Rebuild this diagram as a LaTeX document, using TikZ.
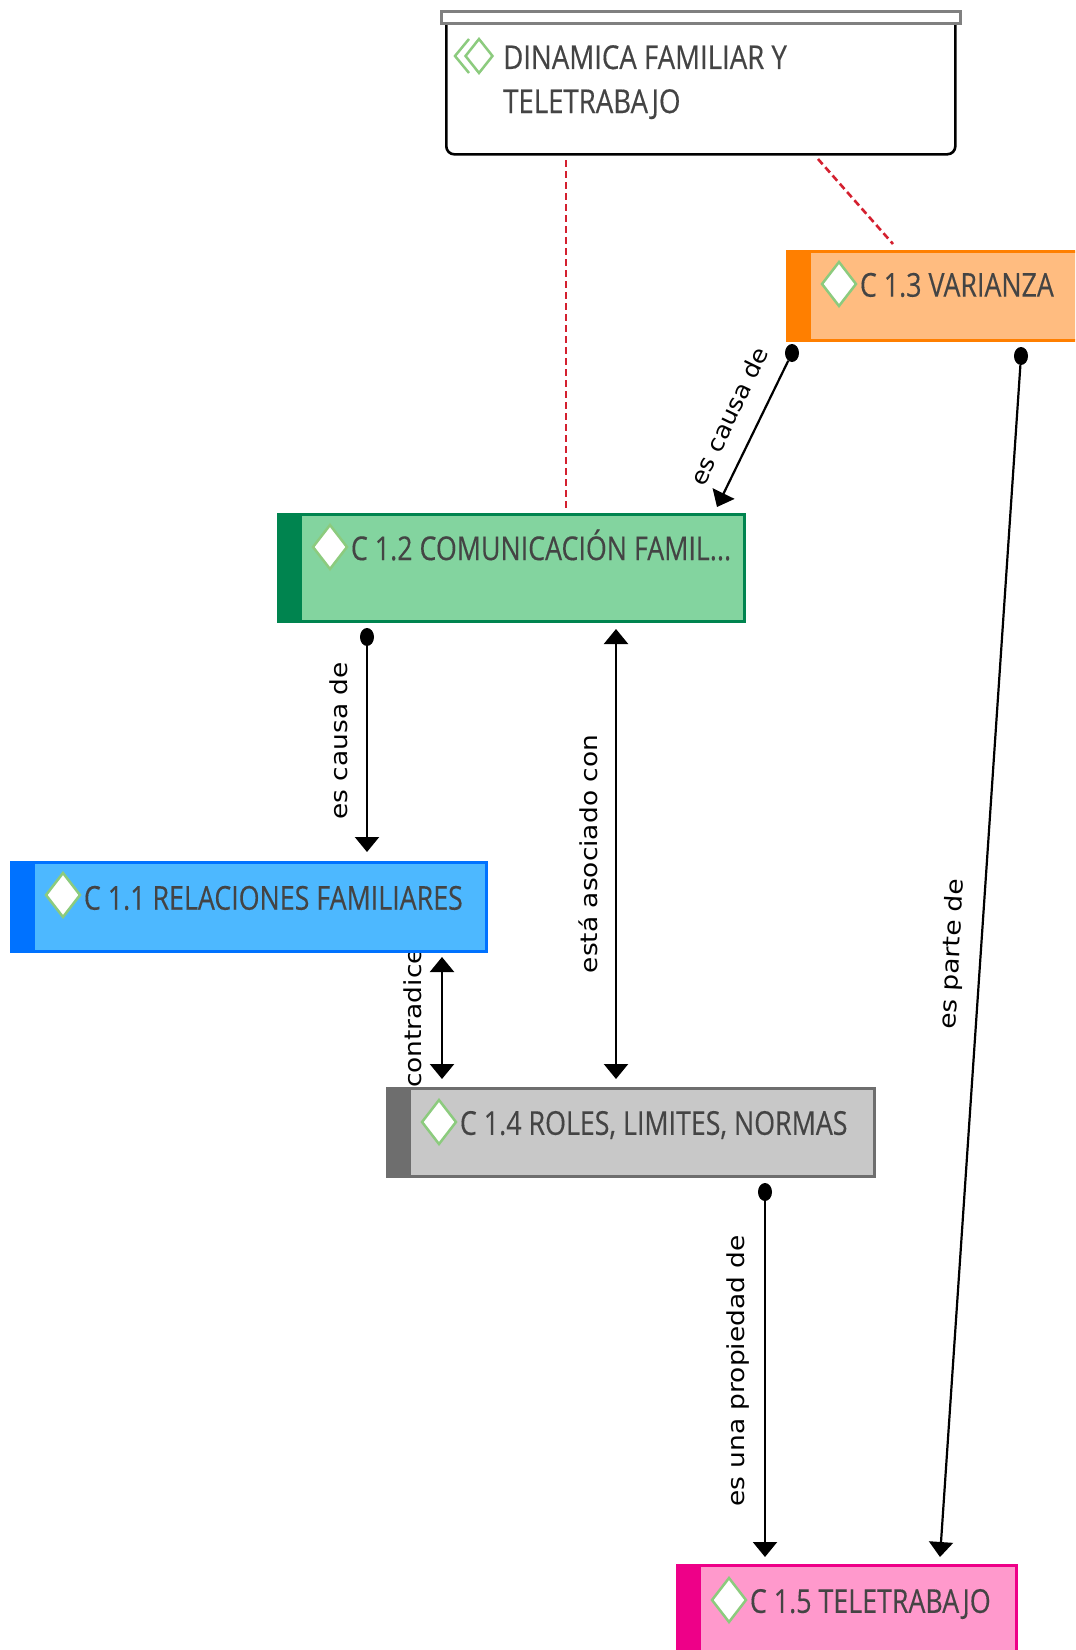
\documentclass[tikz,border=0pt]{standalone}
\usepackage{fontspec}
\newfontfamily\boxfont[FakeBold=0.35]{Open Sans}
\newfontfamily\linkfont{DejaVu Sans}
\usetikzlibrary{calc,positioning,shapes.geometric,arrows.meta}
\definecolor{boxtext}{HTML}{444444}
\definecolor{assocred}{HTML}{D4202F}
\definecolor{gemgreen}{HTML}{8CCB7E}
\definecolor{orangebar}{HTML}{FF7F00}
\definecolor{orangefill}{HTML}{FFBC80}
\definecolor{greenbar}{HTML}{00844F}
\definecolor{greenfill}{HTML}{83D49F}
\definecolor{bluebar}{HTML}{0072FF}
\definecolor{bluefill}{HTML}{4DB8FF}
\definecolor{graybar}{HTML}{6E6E6E}
\definecolor{grayfill}{HTML}{C8C8C8}
\definecolor{pinkbar}{HTML}{EE0088}
\definecolor{pinkfill}{HTML}{FF99CC}
\newcommand{\boxlabel}[1]{\scalebox{0.815}[1]{#1}}
\newcommand{\linklabel}[1]{\scalebox{1.13}[1]{#1}}
\tikzset{
    conbox/.style 2 args={draw=#1,fill=#2,line width=2.5bp,anchor=north west,inner sep=0pt},
    conbar/.style={fill=#1,anchor=north west,inner sep=0pt,minimum width=25bp},
    gem/.style={diamond,draw=gemgreen,fill=white,line width=2.5bp,inner sep=0pt,minimum width=35bp,minimum height=45bp},
    contxt/.style={font=\boxfont\fontsize{33}{44}\selectfont,text=boxtext,inner sep=0pt},
    linktxt/.style={font=\linkfont\fontsize{23.5}{25}\selectfont,text=black,inner sep=0pt},
    dotend/.style={ellipse,fill=black,inner sep=0pt,minimum width=14bp,minimum height=18bp},
    link/.style={draw=black,line width=2.2bp,-{Triangle[width=24bp,length=15bp]}},
    linkboth/.style={draw=black,line width=2.2bp,{Triangle[width=24bp,length=15bp]}-{Triangle[width=24bp,length=15bp]}},
    assoc/.style={draw=assocred,line width=2.6bp,dash pattern=on 7bp off 4bp},
}
\begin{document}
\begin{tikzpicture}[x=1bp,y=-1bp]
    \useasboundingbox (0,0) rectangle (1075,1650);
    \clip (0,0) rectangle (1075,1650);
    % labels lie under the boxes
    \node[linktxt,rotate=64] (lab13) at (729,416) {\scalebox{0.95}[1]{\linklabel{es causa de}}};
    \node[linktxt,rotate=90] (lab12) at (339,741) {\linklabel{es causa de}};
    \node[linktxt,rotate=90] (lab24) at (588,854) {\linklabel{está asociado con}};
    \node[linktxt,rotate=87] (lab35) at (953,954) {\linklabel{es parte de}};
    \node[linktxt,rotate=90] (lab14) at (413,1018) {\linklabel{contradice}};
    \node[linktxt,rotate=90] (lab45) at (738,1371) {\linklabel{es una propiedad de}};

    % top box
    \node[draw=black,fill=white,line width=2.6bp,rounded corners=8bp,anchor=north west,inner sep=0pt,
        minimum width=509bp,minimum height=138bp] (head) at (445,15) {};
    \node[draw=gray,fill=white,line width=3bp,anchor=north west,inner sep=0pt,
        minimum width=519bp,minimum height=12bp] (headcap) at (440,10) {};
    \node[gem,minimum width=28bp,minimum height=35bp] (gem0) at (479,56) {};
    \draw[gemgreen,line width=2.5bp] (469,39) -- (455,56) -- (469,73);
    \node[contxt,anchor=base west] (txt0a) at (503,69) {\scalebox{1.03}[1]{\boxlabel{DINAMICA FAMILIAR Y}}};
    \node[contxt,anchor=base west] (txt0b) at (503,113) {\scalebox{1.03}[1]{\boxlabel{TELETRABAJO}}};

    % C 1.3
    \node[conbox={orangebar}{orangefill},minimum width=295bp,minimum height=89bp] (c13) at (786,250) {};
    \node[conbar={orangebar},minimum height=90bp] (bar13) at (c13.north west) {};
    \node[gem] (gem13) at ($(c13.north west)+(53,34)$) {};
    \node[contxt,right=2bp of gem13,yshift=-1bp] (txt13) {\boxlabel{C 1.3 VARIANZA}};

    % C 1.2
    \node[conbox={greenbar}{greenfill},minimum width=466bp,minimum height=107bp] (c12) at (277,513) {};
    \node[conbar={greenbar},minimum height=108bp] (bar12) at (c12.north west) {};
    \node[gem] (gem12) at ($(c12.north west)+(53,34)$) {};
    \node[contxt,right=2bp of gem12,yshift=2bp] (txt12) {\boxlabel{C 1.2 COMUNICACIÓN FAMIL...}};

    % C 1.1
    \node[conbox={bluebar}{bluefill},minimum width=475bp,minimum height=89bp] (c11) at (10,861) {};
    \node[conbar={bluebar},minimum height=90bp] (bar11) at (c11.north west) {};
    \node[gem] (gem11) at ($(c11.north west)+(53,34)$) {};
    \node[contxt,right=2bp of gem11,yshift=-3bp] (txt11) {\boxlabel{C 1.1 RELACIONES FAMILIARES}};

    % C 1.4
    \node[conbox={graybar}{grayfill},minimum width=487bp,minimum height=88bp] (c14) at (386,1087) {};
    \node[conbar={graybar},minimum height=89bp] (bar14) at (c14.north west) {};
    \node[gem] (gem14) at ($(c14.north west)+(53,35)$) {};
    \node[contxt,right=2bp of gem14,yshift=-3bp] (txt14) {\boxlabel{C 1.4 ROLES, LIMITES, NORMAS}};

    % C 1.5
    \node[conbox={pinkbar}{pinkfill},minimum width=339bp,minimum height=90bp] (c15) at (676,1564) {};
    \node[conbar={pinkbar},minimum height=91bp] (bar15) at (c15.north west) {};
    \node[gem] (gem15) at ($(c15.north west)+(53,36)$) {};
    \node[contxt,right=2bp of gem15,yshift=-4bp] (txt15) {\boxlabel{C 1.5 TELETRABAJO}};

    % ends of the links
    \node[dotend] (dot13a) at (792,353) {};
    \node[dotend] (dot13b) at (1021,356) {};
    \node[dotend] (dot12) at (367,637) {};
    \node[dotend] (dot14) at (765,1192) {};
    \coordinate (in12) at (717,507);
    \coordinate (in11) at (367,852);
    \coordinate (up12) at (616,629);
    \coordinate (down14) at (616,1079);
    \coordinate (up11) at (442,957);
    \coordinate (down14b) at (442,1079);
    \coordinate (in15a) at (765,1557);
    \coordinate (in15b) at (940,1557);
    \coordinate (headout1) at (566,160);
    \coordinate (headin12) at (566,508);
    \coordinate (headout2) at (818,159);
    \coordinate (headin13) at (893,244);

    \draw[assoc] (headout1) -- (headin12);
    \draw[assoc] (headout2) -- (headin13);
    \draw[link] (dot13a) -- (in12);
    \draw[link] (dot13b) -- (in15b);
    \draw[link] (dot12) -- (in11);
    \draw[link] (dot14) -- (in15a);
    \draw[linkboth] (up12) -- (down14);
    \draw[linkboth] (up11) -- (down14b);
\end{tikzpicture}
\end{document}
